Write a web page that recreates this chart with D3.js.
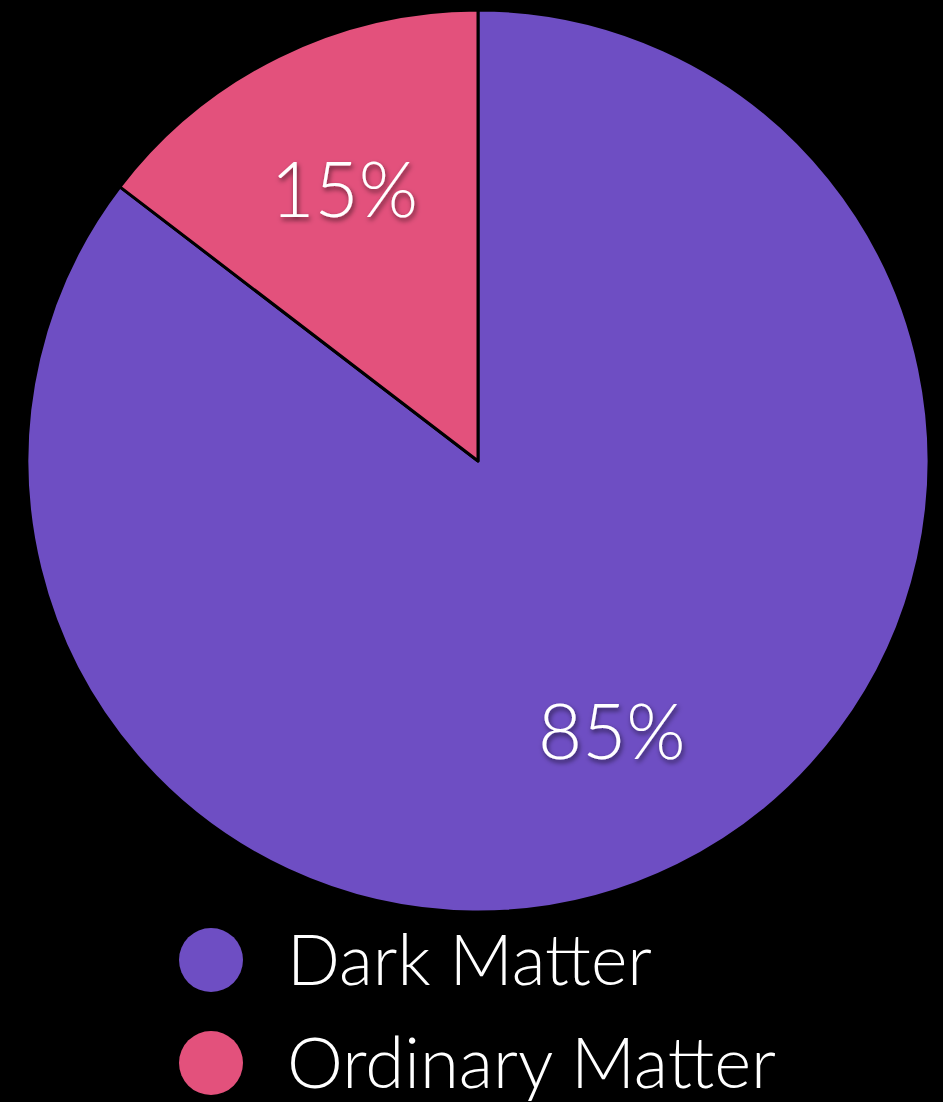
<!DOCTYPE html>
<html>
<head>
<meta charset="utf-8">
<script src="https://cdn.jsdelivr.net/npm/d3@7"></script>
<style>
  html, body { margin: 0; padding: 0; background: #000; }
  svg { display: block; }
  text { font-family: Lato, "Open Sans", sans-serif; font-weight: 300; fill: #fff; }
</style>
</head>
<body>
<div id="chart"></div>
<script>
// data (slice sizes, labels shown rounded)
var categories = ["Dark Matter", "Ordinary Matter"];
var values = [85.4, 14.6];
var colors = ["#6E4EC3", "#E3517C"];

var width = 943, height = 1102;
var cx = 478, cy = 461, radius = 451;

var svg = d3.select("#chart").append("svg")
    .attr("width", width)
    .attr("height", height);

svg.append("rect").attr("width", width).attr("height", height).attr("fill", "#000");

var defs = svg.append("defs");
var shadow = defs.append("filter").attr("id", "txtShadow")
    .attr("x", "-20%").attr("y", "-20%").attr("width", "140%").attr("height", "140%");
shadow.append("feDropShadow")
    .attr("dx", 1.5).attr("dy", 3).attr("stdDeviation", 2.5)
    .attr("flood-color", "#000").attr("flood-opacity", 0.6);

var data = categories.map(function (c, i) { return { name: c, value: values[i], color: colors[i] }; });

var pie = d3.pie().sort(null).value(function (d) { return d.value; });
var arc = d3.arc().innerRadius(0).outerRadius(radius);
var labelArc = d3.arc().innerRadius(radius * 0.67).outerRadius(radius * 0.67);

var g = svg.append("g").attr("transform", "translate(" + cx + "," + cy + ")");

g.selectAll("path.slice")
    .data(pie(data))
    .enter().append("path")
    .attr("class", "slice")
    .attr("d", arc)
    .attr("fill", function (d) { return d.data.color; })
    .attr("stroke", "#000")
    .attr("stroke-width", 3)
    .attr("stroke-linejoin", "round");

g.selectAll("text.pct")
    .data(pie(data))
    .enter().append("text")
    .attr("class", "pct")
    .attr("transform", function (d) { return "translate(" + labelArc.centroid(d) + ")"; })
    .attr("text-anchor", "middle")
    .attr("dy", "0.36em")
    .attr("font-size", 76)
    .attr("filter", "url(#txtShadow)")
    .text(function (d) { return Math.round(d.data.value) + "%"; });

// legend
var legend = svg.append("g").attr("class", "legend");
var rowY = d3.scalePoint().domain(categories).range([960, 1063]);

var items = legend.selectAll("g.item")
    .data(data)
    .enter().append("g")
    .attr("class", "item")
    .attr("transform", function (d) { return "translate(0," + rowY(d.name) + ")"; });

items.append("circle")
    .attr("cx", 211)
    .attr("r", 32)
    .attr("fill", function (d) { return d.color; });

items.append("text")
    .attr("x", 287)
    .attr("dy", "0.36em")
    .attr("font-size", 70)
    .attr("textLength", function (d, i) { return i === 0 ? 365 : 489; })
    .attr("lengthAdjust", "spacingAndGlyphs")
    .text(function (d) { return d.name; });
</script>
</body>
</html>
